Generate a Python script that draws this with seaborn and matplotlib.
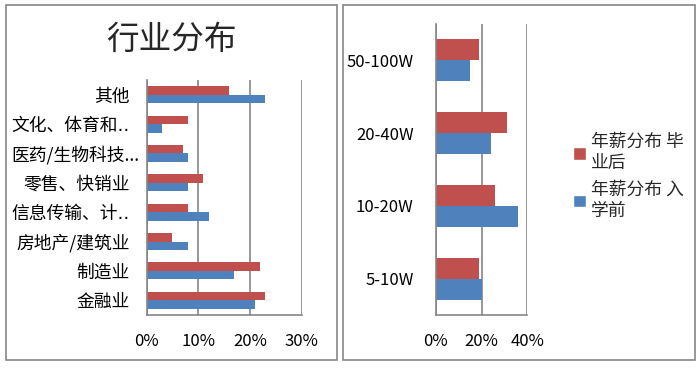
import pandas as pd
import numpy as np
import seaborn as sns
import matplotlib.pyplot as plt
import matplotlib.transforms as mtransforms
from matplotlib.patches import Rectangle, Patch
from matplotlib.ticker import PercentFormatter

"""Data"""

industries = ['其他', '文化、体育和‥', '医药/生物科技...', '零售、快销业',
              '信息传输、计‥', '房地产/建筑业', '制造业', '金融业']
ind_after = [0.16, 0.08, 0.07, 0.11, 0.08, 0.05, 0.22, 0.23]
ind_before = [0.23, 0.03, 0.08, 0.08, 0.12, 0.08, 0.17, 0.21]

salary_bins = ['50-100W', '20-40W', '10-20W', '5-10W']
sal_after = [0.19, 0.31, 0.26, 0.19]
sal_before = [0.15, 0.24, 0.36, 0.20]

series = ['年薪分布 毕业后', '年薪分布 入学前']
colors = ['#C0504D', '#4F81BD']

df_ind = pd.DataFrame({'cat': industries * 2,
                       'val': ind_after + ind_before,
                       'series': [series[0]] * len(industries) + [series[1]] * len(industries)})
df_sal = pd.DataFrame({'cat': salary_bins * 2,
                       'val': sal_after + sal_before,
                       'series': [series[0]] * len(salary_bins) + [series[1]] * len(salary_bins)})

"""Plot"""

sns.set_style('white')
plt.rcParams['font.family'] = ['Noto Sans CJK SC', 'DejaVu Sans']
grey = '#868686'

fig = plt.figure(figsize=(6.97, 3.68), dpi=100)
W, H = 697, 368

# panel borders
for x0, x1 in [(6, 336.5), (342.5, 695)]:
    fig.patches.append(Rectangle((x0 / W, 1 - 360 / H), (x1 - x0) / W, 355 / H,
                                 transform=fig.transFigure, fill=False,
                                 edgecolor=grey, linewidth=1.2))

ax1 = fig.add_axes([146.5 / W, 1 - 315 / H, 155 / W, 235 / H])
ax2 = fig.add_axes([435.7 / W, 1 - 315 / H, 91.6 / W, 291 / H])

sns.barplot(data=df_ind, x='val', y='cat', hue='series', hue_order=series,
            palette=colors, orient='h', width=0.58, saturation=1,
            linewidth=0, legend=False, ax=ax1)
sns.barplot(data=df_sal, x='val', y='cat', hue='series', hue_order=series,
            palette=colors, orient='h', width=0.58, saturation=1,
            linewidth=0, legend=False, ax=ax2)

for ax, xmax, step in [(ax1, 0.30, 0.10), (ax2, 0.40, 0.20)]:
    ax.set_xlim(0, xmax)
    ax.set_xticks(np.arange(0, xmax + 0.001, step))
    ax.xaxis.set_major_formatter(PercentFormatter(1.0, decimals=0))
    ax.set_xlabel('')
    ax.set_ylabel('')
    n = len(ax.get_yticks())
    ax.set_ylim(n - 0.5, -0.5)
    ax.grid(axis='x', color=grey, linewidth=1.2)
    ax.set_axisbelow(True)
    for s in ['top', 'right']:
        ax.spines[s].set_visible(False)
    for s in ['left', 'bottom']:
        ax.spines[s].set_color(grey)
        ax.spines[s].set_linewidth(1.2)
    ax.tick_params(axis='x', labelsize=12, colors='black')

ax1.tick_params(axis='y', labelsize=12.8, colors='black')
ax2.tick_params(axis='y', labelsize=12, colors='black')

ax1.tick_params(axis='both', length=0)
ax1.tick_params(axis='y', pad=12)
ax1.tick_params(axis='x', pad=13)
# truncated labels: narrow dots, and the "..." one runs past the others like in Excel
for lab in ax1.get_yticklabels():
    if '‥' in lab.get_text():
        lab.set_family(['DejaVu Sans', 'Noto Sans CJK SC'])
    if lab.get_text().endswith('...'):
        lab.set_transform(lab.get_transform() +
                          mtransforms.ScaledTranslation(10 / 100, 0, fig.dpi_scale_trans))

# right panel: tick marks between categories
ax2.set_yticks(np.arange(-0.5, 4, 1.0), minor=True)
ax2.tick_params(axis='y', which='major', length=0, pad=16)
ax2.tick_params(axis='y', which='minor', length=5, width=1.2, color=grey, direction='out')
ax2.tick_params(axis='x', length=5, width=1.2, color=grey, direction='out', pad=8)

fig.text(171 / W, 1 - 40 / H, '行业分布', fontsize=23.5, ha='center', va='center')

handles = [Patch(facecolor=c) for c in colors]
fig.legend(handles, ['年薪分布 毕\n业后', '年薪分布 入\n学前'],
           loc='upper left', bbox_to_anchor=(566 / W, 1 - 126 / H),
           frameon=False, fontsize=12.8, handlelength=0.7, handleheight=0.7,
           handletextpad=0.3, labelspacing=0.5, borderaxespad=0)

plt.savefig('out.png', dpi=100)
